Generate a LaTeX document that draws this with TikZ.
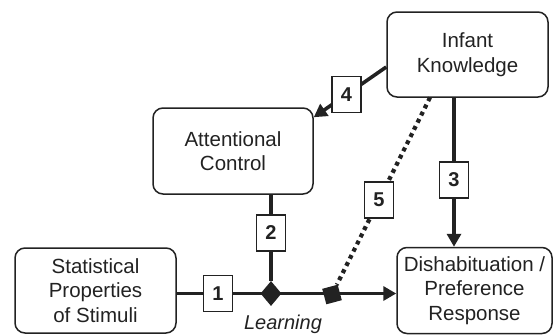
\documentclass[tikz,border=0pt]{standalone}
\usepackage{fontspec}
\setmainfont{Liberation Sans}
\usetikzlibrary{arrows.meta,shapes.geometric,backgrounds,calc}
\definecolor{ink}{HTML}{222222}
\begin{document}
\begin{tikzpicture}[x=1pt,y=-1pt,
  box/.style={draw=ink, line width=1.5pt, rounded corners=10pt, align=center, text=ink,
    font=\fontsize{20.5}{24.5}\selectfont, inner sep=0pt},
  num/.style={draw=ink, fill=white, line width=1.3pt, minimum width=29pt, minimum height=36pt,
    inner sep=0pt, text=ink, font=\fontsize{20}{24}\selectfont\bfseries},
  conn/.style={draw=ink, line width=3.6pt},
  tip/.style={-{Triangle[length=13pt,width=14pt]}},
  dots/.style={draw=ink, line width=4.2pt, dash pattern=on 4pt off 4pt}
]
\useasboundingbox (0,0) rectangle (554,335);
% main boxes
\node[box, minimum width=161pt, minimum height=85pt] (stat) at (95.5,290.5) {Statistical\\Properties\\of Stimuli};
\node[box, minimum width=155pt, minimum height=86pt] (dish) at (474.5,290.5) {Dishabituation /\\Preference\\Response};
\node[box, minimum width=160pt, minimum height=86pt] (att) at (233,151) {Attentional\\Control};
\node[box, minimum width=161pt, minimum height=85pt] (inf) at (467.5,54.5) {Infant\\Knowledge};
% junctions
\node[diamond, fill=ink, minimum width=21pt, minimum height=25pt, inner sep=0pt] (d) at (271,293.5) {};
\node[fill=ink, minimum size=16pt, inner sep=0pt, rotate=15] (sq) at (332,294.5) {};
\coordinate (s4) at ($(inf.west)+(0,12.5)$);
\coordinate (t4) at ($(att.north east)+(0,10)$);
\coordinate (s5) at (430,97.5);
% number boxes
\node[num] (n1) at (218,293.5) {1};
\node[num] (n2) at (271,233) {2};
\node[num] (n3) at (454,180) {3};
\node[num] (n4) at ($(s4)!0.55!(t4)$) {4};
\node[num] (n5) at ($(s5)!0.52!(sq)$) {5};
\node[text=ink, font=\fontsize{20}{24}\selectfont\itshape] (learn) at (283,324) {Learning};
% connectors
\begin{scope}[on background layer]
\draw[conn, tip] (stat.east |- d) -- (dish.west |- d);
\draw[conn] (att.south -| d) -- (d);
\draw[conn, tip] (inf.south -| n3) -- (dish.north -| n3);
\draw[conn, tip] (s4) -- (t4);
\draw[dots] (s5) -- (sq);
\end{scope}
\end{tikzpicture}
\end{document}
